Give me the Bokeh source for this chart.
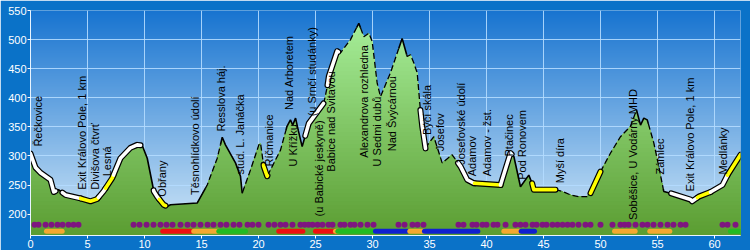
import numpy as np
from bokeh.plotting import figure
from bokeh.models import Range1d, FixedTicker
from bokeh.embed import file_html
from bokeh.resources import INLINE
from bokeh.core.properties import value

# ---------------- data ----------------
km = [0.00, 0.44, 0.88, 1.75, 2.04, 2.46, 3.07, 4.39, 5.26, 5.85, 6.40, 7.17, 7.89, 8.77,
      9.36, 9.80, 10.24, 10.68, 10.82, 11.11, 11.69, 11.99, 12.28, 14.62, 15.50, 16.38,
      16.82, 17.10, 17.98, 18.42, 18.57, 19.30, 20.03, 20.18, 20.46, 20.76, 21.93, 22.50,
      22.80, 23.00, 23.25, 23.50, 23.83, 24.41, 25.73, 26.03, 26.17, 26.90, 27.19, 28.07,
      28.80, 29.24, 29.68, 29.97, 30.41, 30.70, 31.58, 32.60, 33.04, 33.33, 33.62, 33.92,
      34.20, 34.36, 34.65, 34.94, 35.38, 36.11, 36.99, 37.72, 38.31, 38.89, 41.23, 42.10,
      42.40, 42.98, 43.71, 44.00, 44.15, 46.05, 46.64, 47.37, 48.10, 48.83, 49.12, 50.00,
      50.88, 51.75, 52.63, 53.16, 53.51, 53.80, 54.10, 54.68, 55.11, 55.55, 56.14, 57.89,
      58.04, 58.62, 59.65, 60.70, 61.14, 62.28]
elev = [304, 280, 271, 259, 238, 242, 233, 227, 222, 226, 239, 262, 296, 314,
        319, 318, 296, 253, 239, 230, 216, 213, 216, 219, 250, 296,
        332, 319, 288, 265, 236, 276, 319, 322, 282, 265, 310, 351,
        362, 353, 365, 343, 316, 356, 391, 419, 437, 480, 477, 500,
        528, 505, 511, 497, 425, 402, 443, 502, 471, 474, 460, 443,
        379, 351, 313, 322, 333, 288, 302, 282, 259, 253, 250, 305,
        299, 247, 267, 253, 242, 242, 239, 233, 230, 230, 236, 273,
        305, 333, 351, 379, 353, 365, 362, 322, 282, 239, 236, 225,
        222, 230, 238, 250, 267, 302]

# surface type along the route: (kind, from km, to km)
seg_kind = ["white", "solid", "white", "yellow", "white", "yellow", "white", "solid",
            "white", "yellow", "solid", "dash", "solid", "dash", "yellow", "dash",
            "solid", "white", "dash", "white", "dash", "solid", "dash", "solid", "dash",
            "white", "dash", "white", "yellow", "white", "solid", "yellow", "dash",
            "yellow", "dash", "solid", "dash", "solid", "white", "yellow", "white", "yellow"]
seg_from = [0.0, 2.2, 2.8, 4.4, 5.96, 6.58, 7.28, 9.65,
            10.8, 11.3, 11.85, 15.35, 16.67, 18.6, 20.44, 20.79,
            22.4, 24.1, 25.7, 26.05, 27.0, 28.6, 28.95, 32.3, 33.0,
            34.2, 34.65, 37.5, 38.95, 41.23, 42.2, 44.0, 46.05,
            49.12, 50.0, 53.16, 54.2, 55.5, 56.2, 58.5, 59.65, 61.14]
seg_to = seg_from[1:] + [62.28]

label_names = ["Řečkovice", "Exit Královo Pole, 1 km", "Divišova čtvrť", "Lesná", "Obřany",
               "Těsnohlídkovo údolí", "Resslova háj.", "stud. L. Janáčka", "Říčmanice",
               "Nad Arboretem", "U Křížku", "(u Srnčí studánky)", "(u Babické jeskyně)",
               "Babice nad Svitavou", "Alexandrova rozhledna", "U Sedmi dubů", "Nad Švýcárnou",
               "Býčí skála", "Josefov", "Josefovské údolí", "Adamov", "Adamov - žst.",
               "Ptačinec", "Pod Ronovem", "Myší díra", "Soběšice, U Vodárny MHD", "Zámlec",
               "Exit Královo Pole, 1 km", "Medlánky"]
label_km = [0.68, 4.53, 5.70, 6.73, 11.55, 14.47, 16.67, 18.36, 20.90, 22.66, 23.04, 24.65,
            25.29, 26.32, 29.24, 30.41, 31.73, 34.74, 35.90, 37.72, 38.75, 40.06, 41.96,
            43.13, 46.43, 52.87, 55.26, 57.89, 60.76]
label_base = [316, 242, 242, 265, 230, 233, 342, 268, 282, 379, 282, 368, 196, 273, 297,
              282, 308, 336, 308, 285, 265, 265, 299, 259, 253, 190, 268, 239, 268]

dot_km = [0.35, 0.70, 1.32, 1.84, 2.37, 2.81, 3.33, 3.77, 4.21,
          9.04, 9.56, 10.18, 10.79, 11.40, 11.93, 12.46, 13.16, 13.77, 14.30, 14.91, 15.53,
          16.05, 16.67, 17.19, 17.81, 18.33, 19.04, 19.47, 20.00, 20.88, 21.40, 21.93, 22.37,
          22.98, 23.68, 24.04, 24.39, 24.74, 25.18, 25.61, 26.14, 26.49, 27.19, 27.54, 28.07,
          28.42, 28.95, 29.56, 30.09,
          32.28, 32.81, 33.51, 33.95, 34.47,
          37.54, 37.98, 38.77, 39.12, 39.65, 40.00, 40.61, 40.96, 41.67, 42.54, 42.98, 43.42,
          44.04, 44.39, 44.91, 45.26, 45.79, 46.23, 46.67, 47.11, 47.54, 48.07, 48.68, 49.12,
          50.00, 51.05, 51.75, 52.11, 52.46, 53.07, 53.68, 54.12, 54.65, 55.26, 55.88, 56.40,
          57.02, 57.46,
          60.70, 61.14, 61.84]
dot_level = 181.6

bar_x0 = [1.40, 11.60, 14.32, 16.52, 21.78, 25.00, 26.75, 26.96, 30.26, 33.27, 34.56,
          41.52, 43.04, 51.23, 54.32, 61.40]
bar_x1 = [2.78, 14.32, 16.52, 18.86, 23.89, 26.75, 26.96, 30.26, 33.04, 34.56, 39.24,
          42.92, 44.21, 53.04, 56.08, 62.20]
bar_color = ["#f4a830", "#ee1010", "#f4a830", "#22bb22", "#ee1010", "#ee1010", "#f4a830",
             "#22bb22", "#1020d0", "#f4a830", "#1020d0", "#f4a830", "#1020d0", "#f4a830",
             "#f4a830", "#22bb22"]
bar_level = 170.4

x_ticks = list(range(0, 61, 5))
y_ticks = list(range(200, 551, 50))

X0, X1 = 0.0, 62.28
Y0, Y1 = 163.2, 550.0

FONT = "Liberation Sans"

# ---------------- figure ----------------
p = figure(width=750, height=250, x_range=Range1d(X0, X1), y_range=Range1d(Y0, Y1),
           output_backend="svg", toolbar_location=None,
           min_border_left=30, min_border_right=10, min_border_top=10, min_border_bottom=15)
p.border_fill_color = "#0a72c8"
p.background_fill_color = "#6aa8e0"
p.outline_line_color = None


def mix(c0, c1, t):
    return tuple(int(round(a + (b - a) * t)) for a, b in zip(c0, c1))


# sky gradient (decorative background)
n = 256
sky_top, sky_bot = (0x18, 0x74, 0xd0), (0xd2, 0xe8, 0xf8)
img = np.empty((n, 1), dtype=np.uint32)
view = img.view(dtype=np.uint8).reshape((n, 1, 4))
for i in range(n):
    r, g, b = mix(sky_bot, sky_top, i / (n - 1))
    view[i, 0, :] = (r, g, b, 255)
p.image_rgba(image=[img], x=X0, y=Y0, dw=X1 - X0, dh=Y1 - Y0, level="image")

# grid
p.xgrid.ticker = FixedTicker(ticks=x_ticks)
p.ygrid.ticker = FixedTicker(ticks=y_ticks)
for g in (p.xgrid, p.ygrid):
    g.grid_line_color = "#b4dcff"
    g.grid_line_alpha = 0.9
    g.grid_line_width = 1

# terrain with vertical gradient (stacked bands)
fine = np.union1d(np.linspace(km[0], km[-1], 1600), km)
fe = np.interp(fine, km, elev)
g_top, g_bot = (0xa8, 0xf0, 0x9c), (0x5a, 0x9c, 0x30)
for hi in np.arange(544.0, Y0, -7.0):
    t = (hi - Y0) / (544.0 - Y0)
    col = "#%02x%02x%02x" % mix(g_bot, g_top, t)
    p.varea(x=fine, y1=Y0, y2=np.minimum(fe, hi), fill_color=col)


def sub(a, b):
    xs = [a] + [k for k in km if a < k < b] + [b]
    return xs, list(np.interp(xs, km, elev))


for kind, a, b in zip(seg_kind, seg_from, seg_to):
    xs, ys = sub(a, b)
    if kind == "dash":
        p.line(xs, ys, line_color="black", line_width=1.3, line_dash="6 3")
    elif kind == "solid":
        p.line(xs, ys, line_color="black", line_width=1.6)
for kind, a, b in zip(seg_kind, seg_from, seg_to):
    xs, ys = sub(a, b)
    if kind in ("white", "yellow"):
        p.line(xs, ys, line_color="black", line_width=6, line_cap="round", line_join="round")
for kind, a, b in zip(seg_kind, seg_from, seg_to):
    xs, ys = sub(a, b)
    if kind in ("white", "yellow"):
        p.line(xs, ys, line_color="white" if kind == "white" else "#ffff00",
               line_width=3.6, line_cap="round", line_join="round")

# waypoint dots and surface bars
p.scatter(x=dot_km, y=[dot_level] * len(dot_km), size=6, marker="circle",
          fill_color="#7e1580", line_color=None)
p.segment(x0=bar_x0, y0=[bar_level] * len(bar_x0), x1=bar_x1, y1=[bar_level] * len(bar_x0),
          line_color=bar_color, line_width=5, line_cap="round")

# place names
p.text(x=label_km, y=label_base, text=label_names, angle=np.pi / 2,
       text_align="left", text_baseline="middle", text_font=value(FONT),
       text_font_size="11px", text_color="black")

# axes
p.xaxis.ticker = FixedTicker(ticks=x_ticks)
p.yaxis.ticker = FixedTicker(ticks=y_ticks)
for ax in (p.xaxis, p.yaxis):
    ax.major_label_text_color = "white"
    ax.major_label_text_font = FONT
    ax.major_label_text_font_size = "11px"
    ax.axis_line_color = "#e8f4ff"
    ax.major_tick_line_color = "white"
    ax.major_tick_out = 3
    ax.major_tick_in = 0
    ax.minor_tick_line_color = None
    ax.major_label_standoff = 1

open("out.html", "w").write(file_html(p, INLINE))
